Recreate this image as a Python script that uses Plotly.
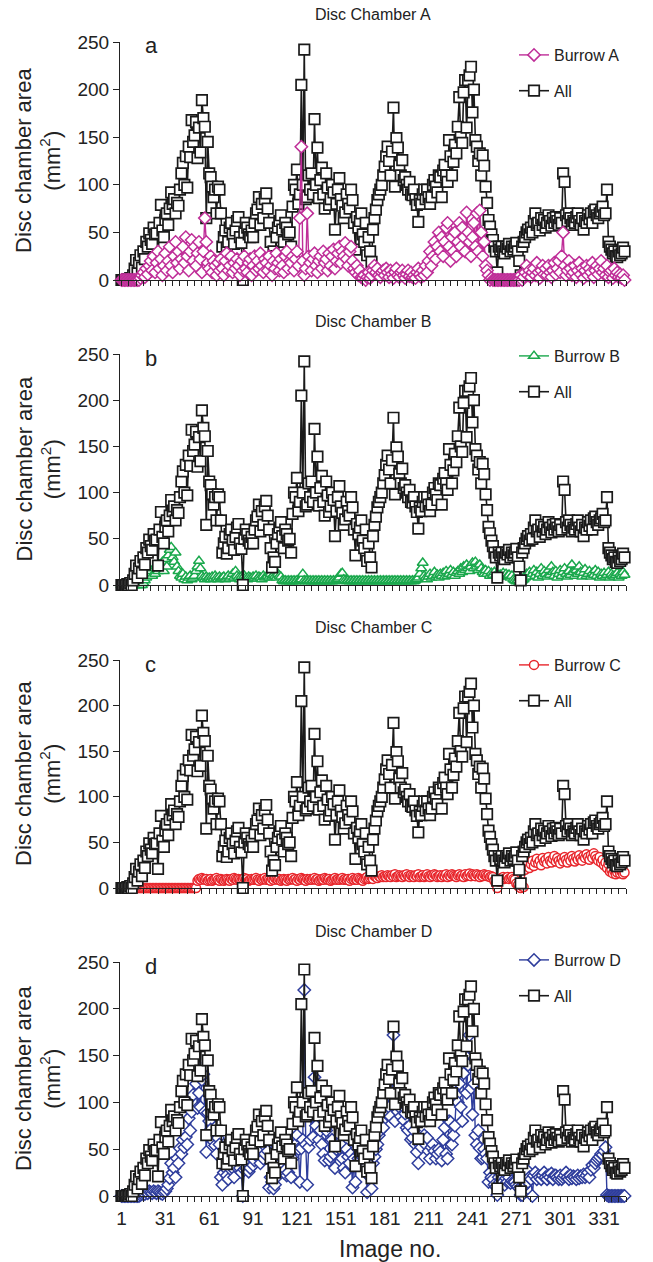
import plotly.graph_objects as go

# ---------------- data ----------------
image_no = list(range(1, 346))

all_area = [
    0, 0, 0, 0, 1, 0, 2, 0, 5, 12,
    21, 8, 18, 26, 13, 30, 22, 40, 35, 49,
    42, 38, 55, 48, 49, 21, 60, 79, 52, 45,
    63, 70, 58, 75, 92, 80, 85, 70, 81, 78,
    95, 112, 123, 100, 130, 97, 140, 129, 168, 145,
    152, 166, 128, 160, 134, 189, 170, 161, 65, 145,
    112, 108, 98, 87, 95, 70, 98, 95, 70, 35,
    45, 52, 34, 40, 55, 60, 48, 38, 52, 62,
    66, 45, 39, 0, 50, 60, 55, 48, 45, 52,
    45, 60, 70, 74, 87, 58, 80, 65, 85, 91,
    75, 60, 40, 19, 30, 25, 45, 55, 62, 68,
    53, 40, 60, 55, 48, 50, 35, 77, 100, 95,
    116, 80, 90, 205, 100, 242, 85, 87, 110, 95,
    112, 90, 169, 100, 139, 86, 105, 118, 90, 75,
    112, 97, 79, 85, 100, 92, 53, 80, 95, 107,
    85, 78, 65, 71, 90, 80, 75, 95, 84, 60,
    32, 66, 55, 62, 70, 48, 40, 60, 26, 45,
    30, 19, 53, 65, 74, 84, 90, 95, 100, 110,
    119, 130, 140, 125, 110, 135, 181, 98, 149, 139,
    120, 110, 126, 105, 108, 100, 95, 103, 90, 89,
    95, 85, 79, 61, 84, 80, 90, 95, 85, 95,
    87, 80, 87, 100, 105, 98, 92, 110, 108, 87,
    115, 121, 110, 103, 147, 130, 110, 124, 142, 133,
    161, 192, 150, 144, 197, 210, 160, 210, 215, 224,
    176, 200, 147, 140, 125, 133, 110, 131, 120, 98,
    81, 63, 56, 48, 42, 35, 30, 8, 35, 32,
    35, 30, 28, 35, 33, 38, 30, 35, 32, 35,
    39, 30, 20, 5, 35, 40, 45, 50, 53, 48,
    55, 50, 62, 70, 58, 60, 52, 65, 58, 63,
    55, 60, 68, 62, 57, 65, 60, 66, 62, 58,
    65, 60, 112, 103, 68, 62, 70, 65, 58, 62,
    60, 66, 70, 62, 58, 65, 53, 62, 60, 68,
    64, 70, 60, 72, 74, 68, 65, 70, 72, 77,
    68, 70, 95, 40, 35, 32, 28, 30, 25, 24,
    30, 26, 28, 34, 30,
]

burrow_a = [
    0, 0, 0, 0, 0, 0, 0, 0, 0, 0,
    0, 0, 0, 2, 5, 8, 3, 12, 6, 15,
    20, 10, 25, 8, 18, 30, 12, 22, 5, 15,
    28, 10, 20, 35, 15, 8, 25, 40, 18, 30,
    12, 22, 35, 18, 45, 25, 10, 30, 42, 20,
    35, 15, 28, 40, 22, 8, 30, 65, 40, 18,
    12, 25, 8, 20, 15, 5, 18, 10, 22, 12,
    5, 20, 28, 10, 15, 25, 8, 18, 12, 22,
    15, 5, 20, 10, 25, 12, 8, 18, 22, 5,
    15, 25, 10, 20, 12, 28, 15, 8, 22, 18,
    10, 25, 15, 5, 20, 12, 28, 18, 10, 22,
    15, 8, 25, 30, 12, 20, 18, 25, 10, 22,
    30, 15, 65, 140, 20, 5, 12, 70, 25, 18,
    10, 22, 28, 15, 8, 20, 25, 12, 30, 18,
    22, 10, 28, 15, 25, 32, 12, 20, 28, 35,
    18, 30, 25, 39, 22, 15, 30, 35, 20, 12,
    8, 15, 5, 10, 3, 2, 5, 0, 3, 8,
    2, 5, 10, 15, 8, 12, 5, 3, 8, 10,
    5, 12, 8, 3, 10, 6, 2, 8, 12, 5,
    3, 8, 10, 5, 2, 6, 10, 4, 8, 3,
    5, 2, 8, 12, 6, 3, 10, 5, 15, 8,
    20, 30, 15, 25, 40, 22, 35, 50, 30, 45,
    25, 40, 55, 60, 35, 20, 45, 30, 50, 25,
    40, 60, 35, 55, 45, 30, 71, 50, 40, 25,
    45, 60, 35, 70, 30, 73, 50, 25, 40, 15,
    10, 5, 0, 2, 0, 0, 0, 0, 0, 0,
    0, 0, 0, 0, 0, 0, 0, 0, 0, 0,
    0, 0, 0, 5, 0, 3, 8, 15, 5, 10,
    3, 8, 12, 5, 18, 8, 2, 10, 15, 6,
    12, 5, 15, 8, 3, 10, 18, 6, 12, 20,
    8, 25, 50, 15, 5, 10, 20, 12, 5, 8,
    15, 3, 10, 18, 6, 12, 2, 10, 15, 5,
    12, 8, 18, 3, 10, 15, 6, 12, 20, 8,
    12, 5, 15, 3, 8, 10, 2, 12, 5, 8,
    3, 6, 2, 5, 0,
]

burrow_b = [
    0, 0, 0, 0, 0, 0, 0, 0, 0, 0,
    0, 0, 0, 0, 0, 2, 5, 8, 10, 12,
    15, 10, 18, 12, 20, 15, 22, 18, 25, 15,
    28, 20, 32, 38, 41, 30, 25, 35, 20, 15,
    10, 8, 12, 6, 9, 5, 8, 10, 6, 8,
    10, 15, 20, 26, 18, 10, 8, 6, 9, 7,
    8, 6, 9, 7, 10, 8, 6, 9, 7, 8,
    9, 6, 8, 10, 7, 9, 12, 8, 15, 10,
    8, 6, 9, 7, 10, 8, 6, 9, 8, 7,
    9, 8, 10, 7, 9, 8, 6, 10, 8, 9,
    10, 8, 12, 9, 11, 10, 8, 12, 10, 9,
    5, 4, 5, 4, 5, 4, 5, 4, 5, 4,
    5, 4, 5, 6, 12, 5, 4, 5, 4, 5,
    4, 5, 4, 5, 4, 5, 4, 5, 4, 5,
    4, 5, 4, 5, 4, 5, 4, 5, 6, 8,
    12, 13, 6, 5, 4, 5, 4, 5, 4, 5,
    4, 5, 4, 5, 4, 5, 4, 5, 4, 5,
    4, 5, 4, 5, 4, 5, 4, 5, 4, 5,
    4, 5, 4, 5, 4, 5, 4, 5, 4, 5,
    4, 5, 4, 5, 4, 5, 4, 5, 4, 5,
    4, 5, 6, 8, 12, 18, 24, 10, 8, 6,
    9, 12, 8, 10, 14, 9, 11, 8, 12, 10,
    13, 9, 15, 10, 12, 16, 11, 14, 10, 13,
    15, 12, 18, 14, 20, 16, 22, 18, 15, 20,
    24, 18, 25, 20, 16, 22, 18, 14, 12, 16,
    12, 15, 10, 13, 11, 14, 10, 12, 9, 11,
    10, 13, 9, 12, 10, 11, 8, 10, 6, 5,
    4, 5, 3, 4, 5, 6, 8, 12, 10, 14,
    9, 12, 16, 10, 14, 8, 12, 18, 10, 15,
    12, 9, 16, 11, 20, 14, 10, 15, 8, 12,
    16, 10, 14, 18, 12, 9, 15, 11, 22, 14,
    10, 16, 12, 20, 14, 9, 13, 17, 10, 12,
    15, 9, 13, 11, 16, 10, 14, 8, 12, 10,
    13, 9, 11, 14, 8, 12, 10, 9, 11, 13,
    8, 12, 10, 14, 11,
]

burrow_c = [
    0, 0, 0, 0, 0, 0, 0, 0, 0, 0,
    0, 0, 0, 0, 0, 0, 0, 0, 0, 0,
    0, 0, 0, 0, 0, 0, 0, 0, 0, 0,
    0, 0, 0, 0, 0, 0, 0, 0, 0, 0,
    0, 0, 0, 0, 0, 0, 0, 0, 0, 0,
    0, 0, 8, 10, 9, 11, 10, 9, 10, 8,
    9, 10, 8, 9, 10, 11, 9, 8, 10, 9,
    8, 9, 10, 9, 8, 10, 9, 11, 10, 9,
    10, 9, 8, 10, 11, 9, 10, 8, 9, 10,
    9, 10, 11, 9, 8, 10, 9, 10, 11, 9,
    10, 9, 8, 10, 9, 11, 10, 9, 10, 8,
    9, 10, 9, 8, 10, 9, 10, 11, 9, 10,
    8, 10, 9, 11, 10, 9, 8, 10, 9, 10,
    9, 10, 11, 9, 10, 8, 9, 10, 9, 11,
    10, 9, 10, 8, 9, 10, 11, 9, 10, 9,
    10, 11, 9, 10, 9, 10, 8, 10, 11, 9,
    10, 9, 11, 10, 9, 8, 10, 11, 12, 10,
    11, 12, 10, 13, 12, 11, 13, 12, 14, 12,
    13, 12, 14, 13, 12, 14, 13, 15, 12, 13,
    14, 13, 12, 14, 13, 15, 13, 12, 14, 13,
    12, 14, 13, 15, 12, 13, 14, 12, 13, 15,
    13, 12, 14, 13, 15, 14, 12, 13, 14, 12,
    14, 13, 15, 12, 14, 13, 15, 14, 13, 12,
    14, 15, 13, 14, 12, 15, 13, 14, 16, 13,
    15, 14, 13, 15, 14, 12, 14, 13, 15, 14,
    13, 14, 12, 13, 12, 8, 5, 0, 7, 10,
    11, 12, 10, 11, 12, 10, 11, 12, 10, 9,
    5, 3, 1, 0, 2, 1, 20, 24, 28, 22,
    26, 30, 24, 28, 32, 27, 30, 25, 33, 29,
    31, 27, 34, 30, 28, 32, 35, 29, 33, 30,
    27, 32, 29, 34, 31, 28, 33, 30, 35, 32,
    29, 34, 31, 36, 32, 30, 35, 33, 37, 34,
    31, 36, 33, 38, 35, 32, 30, 34, 28, 31,
    25, 28, 22, 26, 18, 20, 16, 19, 15, 17,
    20, 16, 18, 15, 17,
]

burrow_d = [
    0, 0, 0, 0, 0, 0, 0, 0, 0, 0,
    0, 0, 0, 1, 2, 3, 2, 4, 3, 5,
    4, 3, 5, 4, 3, 5, 4, 3, 2, 4,
    5, 8, 12, 19, 35, 25, 30, 20, 40, 35,
    51, 45, 60, 52, 63, 55, 83, 70, 90, 108,
    142, 120, 94, 110, 95, 124, 130, 90, 47, 89,
    80, 71, 65, 58, 54, 45, 62, 55, 20, 12,
    25, 30, 22, 18, 35, 28, 30, 20, 32, 38,
    40, 30, 25, 0, 28, 30, 35, 26, 30, 41,
    33, 38, 45, 42, 47, 35, 50, 40, 45, 52,
    48, 9, 20, 15, 8, 12, 20, 28, 30, 35,
    30, 25, 28, 22, 25, 44, 20, 40, 60, 55,
    65, 50, 15, 51, 60, 220, 55, 12, 52, 60,
    95, 63, 127, 75, 94, 60, 70, 55, 45, 38,
    70, 75, 38, 42, 60, 45, 30, 50, 55, 51,
    55, 40, 30, 25, 50, 42, 35, 45, 9, 40,
    15, 51, 40, 45, 55, 41, 30, 45, 4, 30,
    20, 8, 35, 42, 50, 55, 65, 70, 80, 73,
    90, 100, 110, 95, 85, 105, 172, 80, 122, 90,
    95, 85, 100, 81, 88, 73, 70, 75, 60, 62,
    70, 55, 47, 35, 55, 52, 60, 65, 55, 62,
    48, 40, 52, 55, 48, 40, 45, 50, 47, 38,
    60, 73, 45, 40, 80, 79, 55, 65, 75, 108,
    100, 120, 95, 80, 131, 150, 110, 140, 172, 115,
    87, 120, 65, 55, 70, 51, 40, 41, 50, 45,
    40, 15, 25, 20, 18, 12, 10, 1, 20, 15,
    18, 15, 12, 19, 15, 20, 14, 16, 15, 15,
    12, 10, 8, 1, 1, 10, 12, 28, 15, 20,
    18, 0, 22, 25, 18, 22, 20, 18, 22, 25,
    20, 18, 22, 20, 24, 18, 22, 22, 20, 18,
    22, 18, 20, 22, 25, 20, 18, 22, 19, 21,
    20, 18, 22, 19, 21, 20, 23, 20, 22, 25,
    20, 28, 33, 30, 35, 38, 40, 42, 45, 44,
    48, 52, 1, 0, 0, 0, 0, 0, 0, 0,
    0, 0, 0, 0, 0,
]

panel_titles = ["Disc Chamber A", "Disc Chamber B", "Disc Chamber C", "Disc Chamber D"]
panel_letters = ["a", "b", "c", "d"]
burrow_names = ["Burrow A", "Burrow B", "Burrow C", "Burrow D"]
burrow_series = [burrow_a, burrow_b, burrow_c, burrow_d]
burrow_colors = ["#bf2e98", "#1aa84c", "#e8262c", "#2e3d9c"]
burrow_symbols = ["diamond", "triangle-up", "circle", "diamond"]
burrow_sizes = [9.5, 9.5, 9, 9.5]
y_ticks = [0, 50, 100, 150, 200, 250]
x_major = list(range(1, 332, 30))

# ---------------- layout geometry ----------------
W, H = 653, 1262
ML, MR, MT, MB = 120, 27, 42, 66
plot_h = H - MT - MB  # 1154


def py(px):
    """pixel row -> paper y"""
    return (H - MB - px) / plot_h


def pxx(px):
    return (px - ML) / (W - ML - MR)


panel_px = [(42, 280), (354, 585), (660, 888), (962, 1196)]
title_px = [15, 322, 628, 932]
legend_top_px = [38, 339, 648, 943]

FONT = "Liberation Sans, Arial, Helvetica, sans-serif"

fig = go.Figure()
layout_axes = {}
annotations = []

for k in range(4):
    xa = "x" if k == 0 else f"x{k+1}"
    ya = "y" if k == 0 else f"y{k+1}"
    leg = "legend" if k == 0 else f"legend{k+1}"

    all_trace = go.Scatter(
        x=image_no, y=all_area, mode="lines+markers", name="All",
        xaxis=xa, yaxis=ya, legend=leg, legendgroup=f"all{k}", legendrank=2,
        line=dict(color="#1a1a1a", width=1.6),
        marker=dict(symbol="square", size=10.5, color="white",
                    line=dict(color="#1a1a1a", width=1.7)),
        cliponaxis=False,
    )
    b_trace = go.Scatter(
        x=image_no, y=burrow_series[k], mode="lines+markers", name=burrow_names[k],
        xaxis=xa, yaxis=ya, legend=leg, legendgroup=f"b{k}", legendrank=1,
        line=dict(color=burrow_colors[k], width=1.4),
        marker=dict(symbol=burrow_symbols[k], size=burrow_sizes[k], color="white",
                    line=dict(color=burrow_colors[k], width=1.5)),
        cliponaxis=False,
    )
    if k == 0:
        fig.add_trace(all_trace)
        fig.add_trace(b_trace)
    else:
        fig.add_trace(b_trace)
        fig.add_trace(all_trace)

    top, bot = panel_px[k]
    xname = "xaxis" if k == 0 else f"xaxis{k+1}"
    yname = "yaxis" if k == 0 else f"yaxis{k+1}"
    layout_axes[xname] = dict(
        domain=[0, 1], anchor=ya, range=[0, 346],
        tickmode="array", tickvals=x_major,
        showticklabels=(k == 3), ticks="outside", ticklen=5, tickwidth=1,
        tickcolor="#222", showline=True, linecolor="#222", linewidth=1.2,
        minor=dict(tick0=1, dtick=5, ticks="outside", ticklen=5,
                   tickwidth=1, tickcolor="#222", showgrid=False),
        showgrid=False, zeroline=False,
        tickfont=dict(family=FONT, size=19, color="#222"),
    )
    layout_axes[yname] = dict(
        domain=[py(bot), py(top)], anchor=xa, range=[0, 250],
        tickmode="array", tickvals=y_ticks,
        ticks="outside", ticklen=6, tickwidth=1, tickcolor="#222",
        showline=True, linecolor="#222", linewidth=1.2,
        showgrid=False, zeroline=False,
        tickfont=dict(family=FONT, size=19, color="#222"),
    )
    layout_axes[leg] = dict(
        x=pxx(514), y=py(legend_top_px[k]), xanchor="left", yanchor="top",
        bgcolor="rgba(0,0,0,0)", borderwidth=0, tracegroupgap=12,
        font=dict(family=FONT, size=16, color="#222"),
    )
    annotations.append(dict(
        text=panel_titles[k], xref="paper", yref="paper",
        x=0.5, y=py(title_px[k]), xanchor="center", yanchor="middle",
        showarrow=False, font=dict(family=FONT, size=16, color="#222"),
    ))
    annotations.append(dict(
        text=panel_letters[k], xref="paper", yref="paper",
        x=pxx(143), y=py(top + 4), xanchor="left", yanchor="middle",
        showarrow=False, font=dict(family=FONT, size=22, color="#222"),
    ))
    annotations.append(dict(
        text="Disc chamber area<br>(mm<sup>2</sup>)", xref="paper", yref="paper",
        x=pxx(38), y=py((top + bot) / 2), xanchor="center", yanchor="middle",
        textangle=-90, showarrow=False,
        font=dict(family=FONT, size=22, color="#222"),
    ))

annotations.append(dict(
    text="Image no.", xref="paper", yref="paper",
    x=pxx(390), y=py(1249), xanchor="center", yanchor="middle",
    showarrow=False, font=dict(family=FONT, size=23, color="#222"),
))

fig.update_layout(
    width=W, height=H,
    margin=dict(l=ML, r=MR, t=MT, b=MB),
    paper_bgcolor="white", plot_bgcolor="white",
    showlegend=True,
    annotations=annotations,
    **layout_axes,
)

fig.write_html("out.html")
